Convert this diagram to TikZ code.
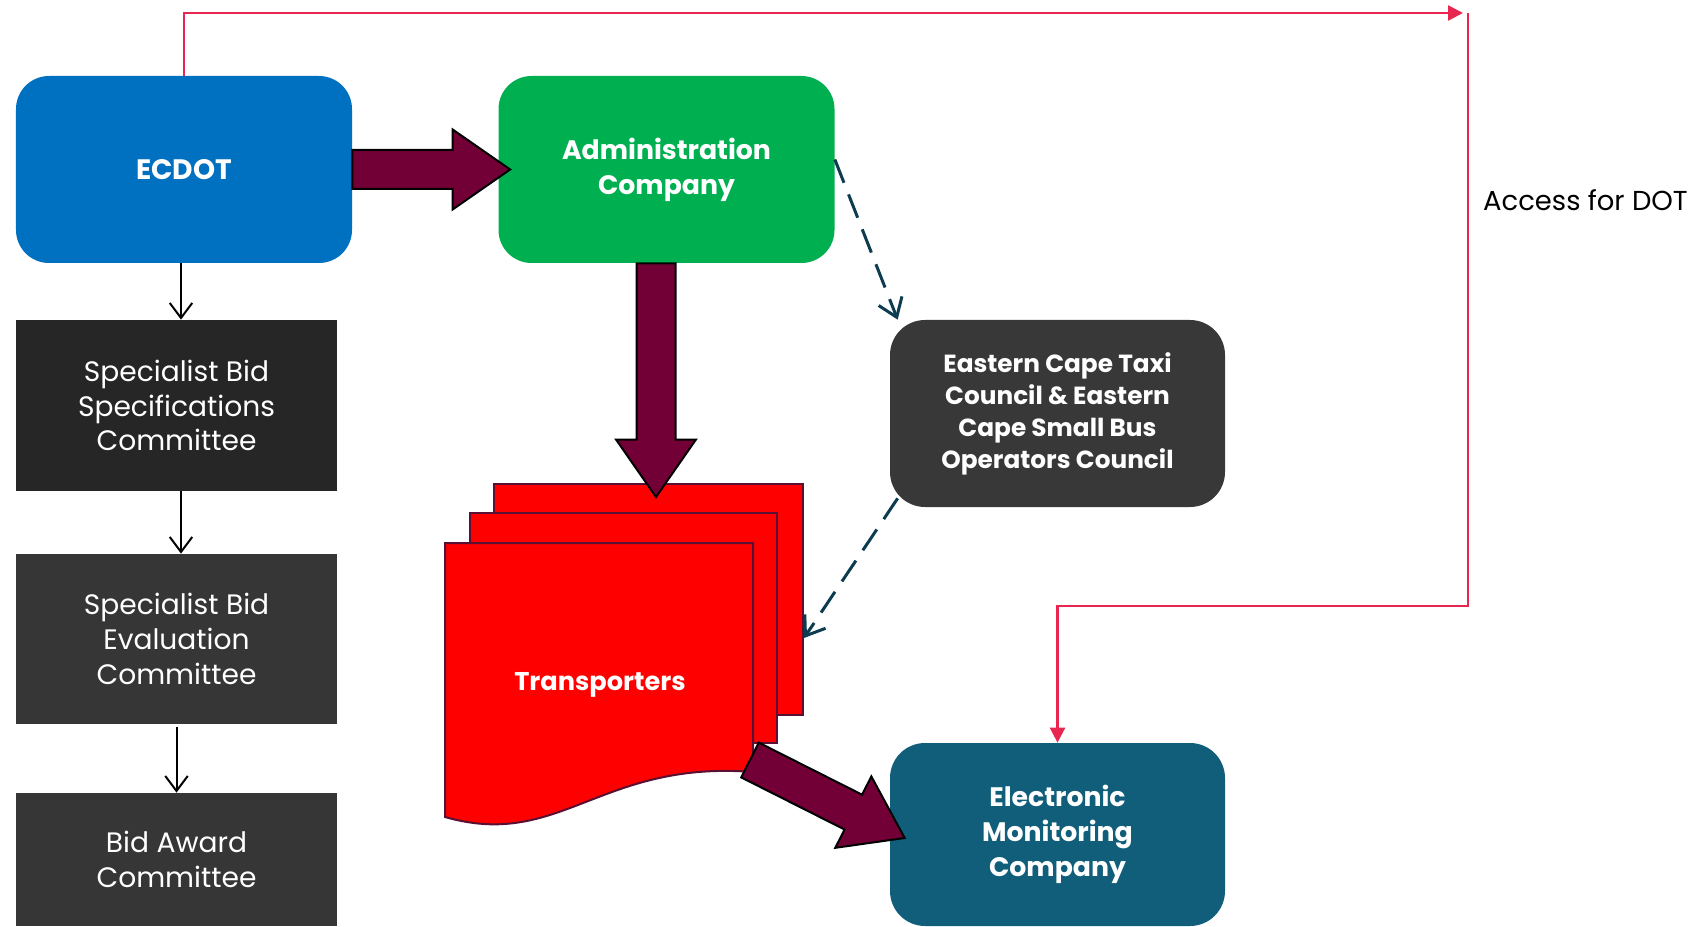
\documentclass[tikz,border=0pt]{standalone}
\usepackage{fontspec}
\setmainfont{Poppins}
\usetikzlibrary{arrows.meta,calc}

\definecolor{r0g112b192}{rgb}{0.000000,0.439216,0.752941}
\definecolor{r0g176b80}{rgb}{0.000000,0.690196,0.313725}
\definecolor{r38g38b38}{rgb}{0.149020,0.149020,0.149020}
\definecolor{r54g54b54}{rgb}{0.211765,0.211765,0.211765}
\definecolor{r56g56b56}{rgb}{0.219608,0.219608,0.219608}
\definecolor{r16g94b122}{rgb}{0.062745,0.368627,0.478431}
\definecolor{r90g16b50}{rgb}{0.352941,0.062745,0.196078}
\definecolor{r114g0b54}{rgb}{0.447059,0.000000,0.211765}
\definecolor{r13g60b80}{rgb}{0.050980,0.235294,0.313725}
\definecolor{r232g38b80}{rgb}{0.909804,0.149020,0.313725}

\tikzset{
  roundbox/.style={rounded corners=0.66cm, minimum width=6.72cm, minimum height=3.74cm,
    inner sep=0pt, text=white, align=center, font=\bfseries\fontsize{15.2}{19.9}\selectfont},
  committee/.style={minimum width=6.42cm, inner sep=0pt, text=white, align=center,
    font=\fontsize{16}{19.8}\selectfont},
  page/.style={draw=r90g16b50, line width=0.04cm, fill=red},
  bigarrow/.style={draw=black, line width=0.04cm, fill=r114g0b54, line join=miter},
  thinarrow/.style={line width=0.04cm, -{Straight Barb[length=0.3cm,width=0.45cm]}},
  dasharrow/.style={r13g60b80, line width=0.06cm, dash pattern=on 0.5cm off 0.25cm,
    -{Straight Barb[length=0.35cm,width=0.5cm]}},
  accessline/.style={r232g38b80, line width=0.05cm, -{Triangle[length=0.3cm,width=0.3cm]}},
}

% fat outlined arrow from #1 to #2 (tip)
\newcommand{\fatarrow}[2]{%
  \coordinate (fah) at ($(#2)!1.15cm!(#1)$);
  \draw [bigarrow] ($(#1)!0.39cm!90:(#2)$) -- ($(fah)!0.39cm!90:(#2)$)
    -- ($(fah)!0.8cm!90:(#2)$) -- (#2) -- ($(fah)!0.8cm!-90:(#2)$)
    -- ($(fah)!0.39cm!-90:(#2)$) -- ($(#1)!0.39cm!-90:(#2)$) -- cycle;}

\begin{document}
\begin{tikzpicture}
\clip (0,0) rectangle (34.06,18.52);

% Drawing boxes
\node [roundbox, fill=r0g112b192, font=\bfseries\fontsize{16}{19.5}\selectfont] (ecdot) at (3.68,15.13) {ECDOT};
\node [roundbox, fill=r0g176b80] (admin) at (13.33,15.13) {Administration\\Company};
\node [committee, fill=r38g38b38, minimum height=3.42cm] (spec) at (3.53,10.41) {Specialist Bid\\Specifications\\Committee};
\node [committee, fill=r54g54b54, minimum height=3.40cm] (eval) at (3.53,5.74) {Specialist Bid\\Evaluation\\Committee};
\node [committee, fill=r54g54b54, minimum height=2.66cm] (award) at (3.53,1.33) {Bid Award\\Committee};
\node [roundbox, fill=r56g56b56, minimum width=6.70cm, rounded corners=0.7cm,
  font=\bfseries\fontsize{14.1}{18.2}\selectfont] (council) at (21.15,10.25) {Eastern Cape Taxi\\Council \& Eastern\\Cape Small Bus\\Operators Council};
\node [roundbox, fill=r16g94b122, minimum width=6.70cm, minimum height=3.66cm,
  rounded corners=0.7cm] (emc) at (21.15,1.83) {Electronic\\Monitoring\\Company};

% Drawing transporter pages
\node [page, minimum width=6.18cm, minimum height=4.62cm] (pageback) at (12.97,6.53) {};
\node [page, minimum width=6.14cm, minimum height=4.60cm] (pagemid) at (12.47,5.96) {};
\draw [page] (8.90,7.66) -- (15.06,7.66) -- (15.06,3.08)
  .. controls (12.00,3.32) and (11.20,1.52) .. (8.90,2.18) -- cycle;
\node [text=white, font=\bfseries\fontsize{14.6}{19}\selectfont] (trans) at (12.00,4.82) {Transporters};
\coordinate (transout) at (15.00,3.32);

% Drawing fat arrows
\coordinate (a1e) at ($(admin.west)+(0.24,0)$);
\coordinate (a2s) at ($(admin.south)+(-0.21,0)$);
\coordinate (a2e) at ($(admin.south |- pageback.north)+(-0.21,-0.28)$);
\coordinate (a3e) at ($(emc.west)+(0.30,-0.07)$);
\fatarrow{ecdot.east}{a1e}
\fatarrow{a2s}{a2e}
\fatarrow{transout}{a3e}

% Drawing thin and dashed arrows
\draw [thinarrow] ([xshift=-0.06cm]ecdot.south) -- ([xshift=-0.06cm]ecdot.south |- spec.north);
\draw [thinarrow] ([xshift=-0.06cm]ecdot.south |- spec.south) -- ([xshift=-0.06cm]ecdot.south |- eval.north);
\draw [thinarrow] ([yshift=-0.06cm]eval.south) -- (award.north);
\draw [dasharrow] ([yshift=0.2cm]admin.east) -- ([xshift=0.16cm]council.north west);
\draw [dasharrow] ([shift={(0.16,0.18)}]council.south west) -- ([yshift=-0.77cm]pageback.east);

% Drawing access line
\coordinate (dot) at (29.36,18.26);
\coordinate (turn) at (29.36,6.40);
\draw [accessline] (ecdot.north) |- ([xshift=-0.1cm]dot);
\draw [accessline] (dot) -- (turn) -| (emc.north);
\node [anchor=west, font=\fontsize{15.6}{19}\selectfont] (access) at (29.54,14.52) {Access for DOT};
\end{tikzpicture}
\end{document}
